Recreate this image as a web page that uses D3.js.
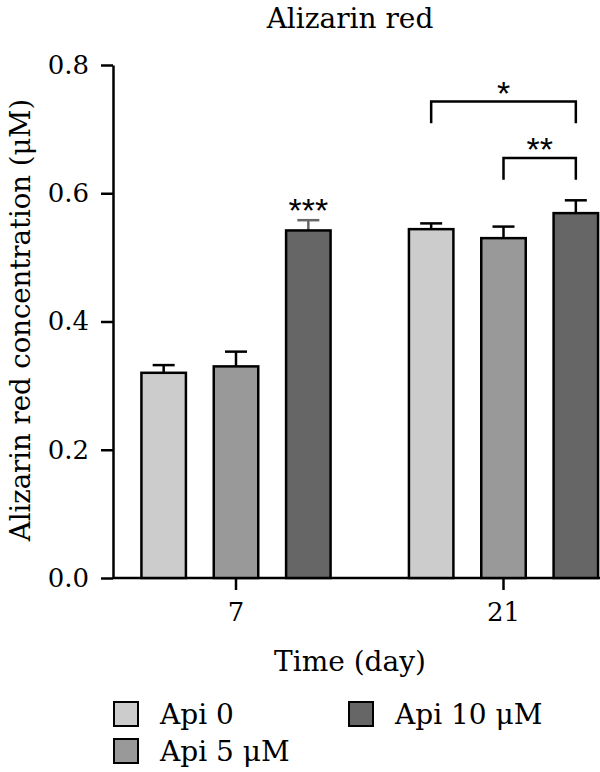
<!DOCTYPE html>
<html>
<head>
<meta charset="utf-8">
<script src="https://cdn.jsdelivr.net/npm/d3@7"></script>
<style>
  body { margin: 0; background: #fff; }
  svg text { font-family: "DejaVu Serif", serif; fill: #000; }
</style>
</head>
<body>
<div id="chart"></div>
<script>
const kWidth = 600;
const kHeight = 772;

const days = ["7", "21"];
const series = ["Api 0", "Api 5 \u03BCM", "Api 10 \u03BCM"];
const fills = ["#cccccc", "#999999", "#666666"];
const means = [
  [0.320, 0.330, 0.542],
  [0.544, 0.530, 0.569]
];
const errors = [
  [0.012, 0.023, 0.016],
  [0.009, 0.018, 0.020]
];
const yTicks = [0.0, 0.2, 0.4, 0.6, 0.8];
// [day index, series from, series to, bracket value, leg value, label]
const brackets = [
  [1, 0, 2, 0.743, 0.709, "*"],
  [1, 1, 2, 0.655, 0.621, "**"]
];
const starLabels = [[0, 2, "***"]];

function draw()
{
  const svg = d3.select("#chart")
    .append("svg")
    .attr("width", kWidth)
    .attr("height", kHeight);

  const left = 113, right = 600, top = 65, bottom = 578;

  const yScale = d3.scaleLinear()
    .domain([0, 0.8])
    .range([bottom, top]);

  const xGroup = d3.scaleBand()
    .domain(days)
    .range([102.25, 637.25]);

  const xInner = d3.scaleBand()
    .domain(series)
    .range([-108.5, 108.5])
    .paddingInner(0.385)
    .paddingOuter(0.1925);

  const barX = (g, s) => xGroup(days[g]) + xGroup.bandwidth() / 2 + xInner(series[s]);
  const barC = (g, s) => barX(g, s) + xInner.bandwidth() / 2;

  // y axis
  const yAxis = d3.axisLeft(yScale)
    .tickValues(yTicks)
    .tickFormat(d3.format(".1f"))
    .tickSize(12)
    .tickSizeOuter(0)
    .tickPadding(12);

  const gy = svg.append("g")
    .attr("transform", `translate(${left},0)`)
    .call(yAxis);
  gy.select(".domain").attr("stroke-width", 2.5);
  gy.selectAll(".tick line").attr("stroke-width", 2.5);
  gy.selectAll("text").style("font-size", "26px").attr("font-family", null);

  // x axis
  const xAxis = d3.axisBottom(xGroup)
    .tickSize(12)
    .tickSizeOuter(0)
    .tickPadding(13);

  const gx = svg.append("g")
    .attr("transform", `translate(0,${bottom})`)
    .call(xAxis);
  gx.select(".domain").attr("d", `M${left},0H${right}`).attr("stroke-width", 2.5);
  gx.selectAll(".tick line").attr("stroke-width", 2.5);
  gx.selectAll("text").style("font-size", "26px").attr("font-family", null);

  // bars
  const flat = [];
  means.forEach((row, g) => row.forEach((v, s) => flat.push({g, s, v, e: errors[g][s]})));
  const errColor = d => d.g === 0 && d.s === 2 ? "#666" : "#000";

  svg.append("g").selectAll("line")
    .data(flat)
    .enter()
    .append("line")
    .attr("x1", d => barC(d.g, d.s))
    .attr("x2", d => barC(d.g, d.s))
    .attr("y1", d => yScale(d.v))
    .attr("y2", d => yScale(d.v + d.e))
    .attr("stroke", errColor)
    .attr("stroke-width", 2.5);

  svg.append("g").selectAll("line")
    .data(flat)
    .enter()
    .append("line")
    .attr("x1", d => barC(d.g, d.s) - 11)
    .attr("x2", d => barC(d.g, d.s) + 11)
    .attr("y1", d => yScale(d.v + d.e))
    .attr("y2", d => yScale(d.v + d.e))
    .attr("stroke", errColor)
    .attr("stroke-width", 2.5);

  svg.append("g").selectAll("rect")
    .data(flat)
    .enter()
    .append("rect")
    .attr("x", d => barX(d.g, d.s))
    .attr("y", d => yScale(d.v))
    .attr("width", xInner.bandwidth())
    .attr("height", d => yScale(0) - yScale(d.v))
    .attr("fill", d => fills[d.s])
    .attr("stroke", "#000")
    .attr("stroke-width", 2.5);

  // significance
  svg.append("g").selectAll("path")
    .data(brackets)
    .enter()
    .append("path")
    .attr("d", d => {
      const x1 = barC(d[0], d[1]), x2 = barC(d[0], d[2]);
      return `M${x1},${yScale(d[4])}V${yScale(d[3])}H${x2}V${yScale(d[4])}`;
    })
    .attr("fill", "none")
    .attr("stroke", "#000")
    .attr("stroke-width", 2.5);

  svg.append("g").selectAll("text")
    .data(brackets)
    .enter()
    .append("text")
    .attr("x", d => (barC(d[0], d[1]) + barC(d[0], d[2])) / 2)
    .attr("y", d => yScale(d[3]) + 3)
    .attr("text-anchor", "middle")
    .style("font-family", "'Liberation Sans', sans-serif")
    .style("font-size", "34px")
    .text(d => d[5]);

  svg.append("g").selectAll("text")
    .data(starLabels)
    .enter()
    .append("text")
    .attr("x", d => barC(d[0], d[1]))
    .attr("y", d => yScale(means[d[0]][d[1]] + errors[d[0]][d[1]]) + 2)
    .attr("text-anchor", "middle")
    .style("font-family", "'Liberation Sans', sans-serif")
    .style("font-size", "34px")
    .text(d => d[2]);

  // titles
  svg.append("text")
    .attr("x", 350)
    .attr("y", 28)
    .attr("text-anchor", "middle")
    .style("font-size", "28px")
    .text("Alizarin red");

  svg.append("text")
    .attr("x", 350)
    .attr("y", 671)
    .attr("text-anchor", "middle")
    .style("font-size", "28px")
    .text("Time (day)");

  svg.append("text")
    .attr("transform", `translate(30,320) rotate(-90)`)
    .attr("text-anchor", "middle")
    .style("font-size", "27.5px")
    .text("Alizarin red concentration (\u03BCM)");

  // legend
  const legendPos = [[114, 714], [114, 751], [349, 714]];
  const lg = svg.append("g").selectAll("g")
    .data(series)
    .enter()
    .append("g")
    .attr("transform", (d, i) => `translate(${legendPos[i][0]},${legendPos[i][1]})`);
  lg.append("rect")
    .attr("x", 0).attr("y", -12)
    .attr("width", 24).attr("height", 24)
    .attr("fill", (d, i) => fills[i])
    .attr("stroke", "#000")
    .attr("stroke-width", 2);
  lg.append("text")
    .attr("x", 46)
    .attr("dy", "0.36em")
    .style("font-size", "28px")
    .text(d => d);
}

document.addEventListener("DOMContentLoaded", draw);
</script>
</body>
</html>
